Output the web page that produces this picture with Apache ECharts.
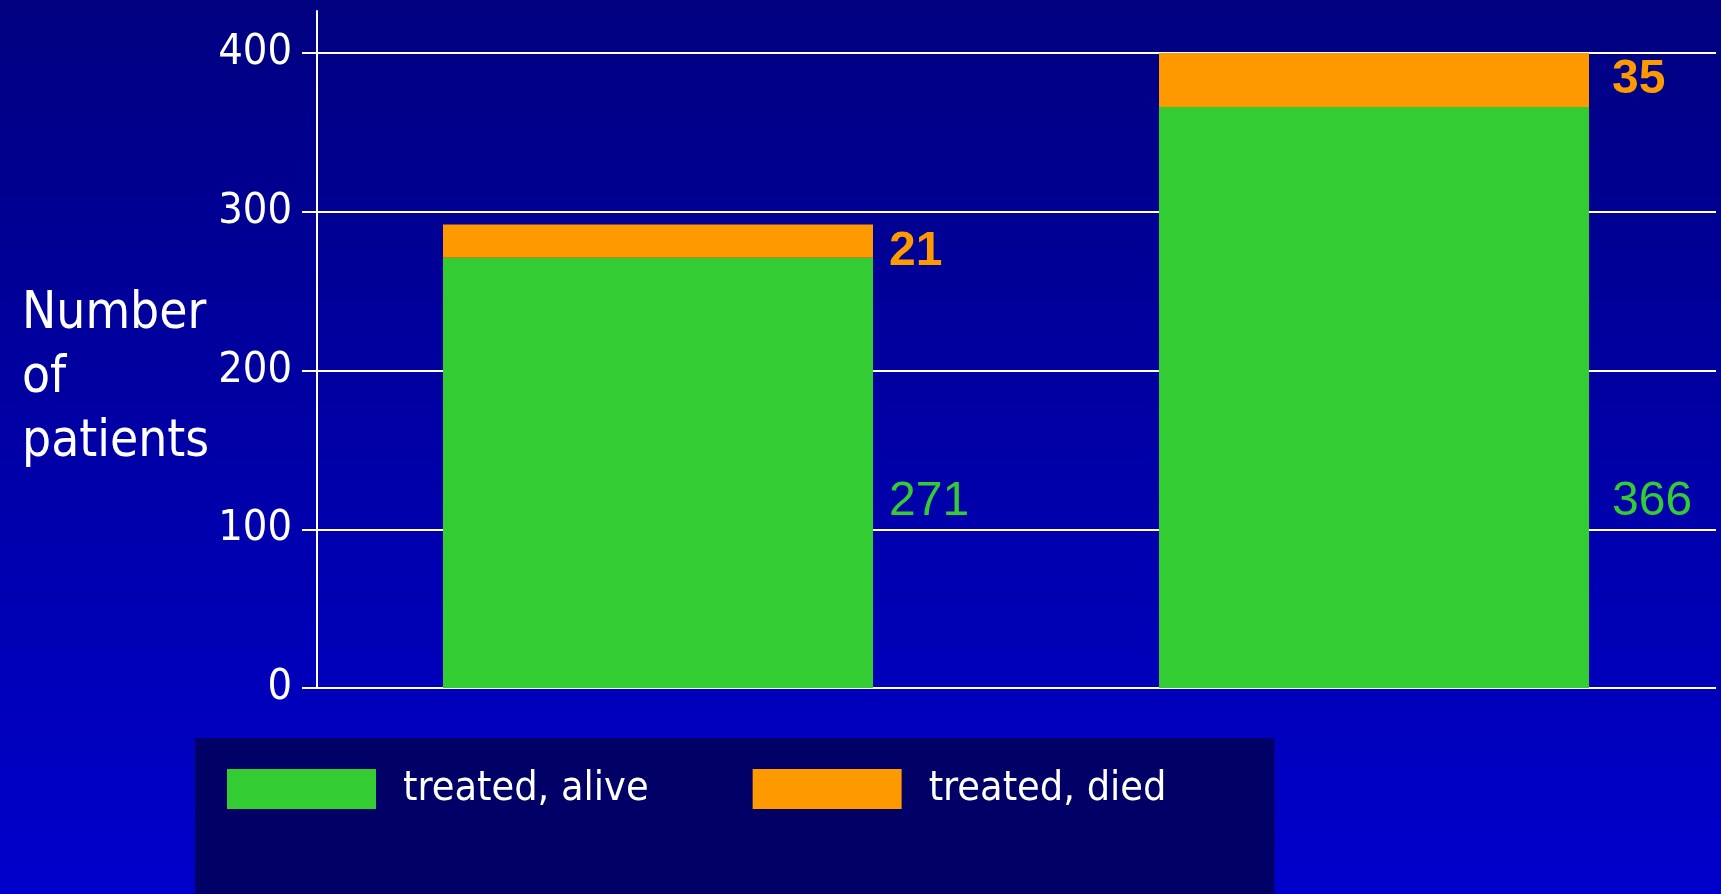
<!DOCTYPE html>
<html>
<head>
<meta charset="utf-8">
<script src="https://cdn.jsdelivr.net/npm/echarts@6/dist/echarts.min.js"></script>
<style>
  html, body { margin: 0; padding: 0; overflow: hidden; background: #0000a8; }
  #chart { width: 1721px; height: 894px; }
</style>
</head>
<body>
<div id="chart"></div>
<script>
// Patient counts per group, stacked: survivors at the bottom, deaths on top
const groups = ['Group 1', 'Group 2'];
const aliveCounts = [271, 366];
const diedCounts = [21, 35];
const seriesNames = ['treated, alive', 'treated, died'];
const yTicks = [0, 100, 200, 300, 400];
const axisTitle = 'Number\nof\npatients';

// Horizontal nudge of the value labels beside each bar (px)
const labelShiftX = [16, 23];

const GREEN = '#33CC33';
const ORANGE = '#FF9900';
const WHITE = '#FFFFFF';
const CLEAR = 'rgba(0,0,0,0)';
const SANS = '"DejaVu Sans Condensed", "DejaVu Sans", sans-serif';
const ARIAL = '"Liberation Sans", Arial, sans-serif';

const yMin = yTicks[0];
const yMax = yTicks[yTicks.length - 1];
const yStep = yTicks[1] - yTicks[0];

const chart = echarts.init(document.getElementById('chart'), null, { renderer: 'canvas' });

const aliveData = aliveCounts.map((v, i) => ({
  value: v,
  label: { offset: [labelShiftX[i], -186] }
}));
const diedData = diedCounts.map((v, i) => ({
  value: v,
  label: { offset: [labelShiftX[i], 27] }
}));

chart.setOption({
  backgroundColor: {
    type: 'linear', x: 0, y: 0, x2: 0, y2: 1,
    colorStops: [
      { offset: 0, color: '#000080' },
      { offset: 1, color: '#0000CC' }
    ]
  },
  animation: false,
  // value-axis title, left aligned in three lines
  title: {
    text: axisTitle,
    left: 22,
    top: 283,
    padding: 0,
    textStyle: {
      color: WHITE, fontFamily: SANS, fontSize: 51, fontWeight: 'normal', lineHeight: 64
    }
  },
  grid: [
    // value axis, ticks and gridlines
    { left: 317, right: 5, top: 53, bottom: 206, containLabel: false, outerBoundsMode: 'none' },
    // bars (band slightly wider than the visible plot)
    { left: 300, width: 1432, top: 53, bottom: 206, containLabel: false, outerBoundsMode: 'none' },
    // vertical axis line reaching above the top gridline
    { left: 317, width: 10, top: 11, bottom: 206, containLabel: false, outerBoundsMode: 'none' }
  ],
  xAxis: [
    { gridIndex: 0, type: 'category', data: groups, show: false },
    { gridIndex: 1, type: 'category', data: groups, show: false },
    { gridIndex: 2, type: 'category', data: groups, show: false }
  ],
  yAxis: [
    {
      gridIndex: 0, type: 'value', min: yMin, max: yMax, interval: yStep,
      axisLine: { show: false },
      axisTick: { show: true, inside: false, length: 15, lineStyle: { color: WHITE, width: 2 } },
      axisLabel: {
        show: true, margin: 25, color: WHITE, fontFamily: SANS, fontSize: 43,
        backgroundColor: CLEAR, padding: [4, 0, 0, 0]
      },
      splitLine: { show: true, lineStyle: { color: WHITE, width: 2 } }
    },
    {
      gridIndex: 1, type: 'value', min: yMin, max: yMax, interval: yStep, show: false
    },
    {
      gridIndex: 2, type: 'value', min: 0, max: 1,
      axisLine: { show: true, lineStyle: { color: WHITE, width: 2 } },
      axisTick: { show: false },
      axisLabel: { show: false },
      splitLine: { show: false }
    }
  ],
  legend: {
    data: seriesNames,
    left: 195,
    top: 738,
    orient: 'horizontal',
    icon: 'rect',
    itemWidth: 149,
    itemHeight: 40,
    itemGap: 104,
    selectedMode: false,
    backgroundColor: '#000066',
    padding: [26, 108, 100, 32],
    textStyle: {
      color: WHITE, fontFamily: SANS, fontSize: 41,
      backgroundColor: CLEAR,
      padding: [9, 0, 0, 22]
    }
  },
  series: [
    {
      name: seriesNames[0],
      type: 'bar',
      stack: 'total',
      xAxisIndex: 1,
      yAxisIndex: 1,
      barWidth: 430,
      itemStyle: { color: GREEN },
      label: {
        show: true,
        position: ['100%', '100%'],
        align: 'left',
        verticalAlign: 'middle',
        color: GREEN,
        fontFamily: ARIAL,
        fontSize: 48,
        formatter: '{c}'
      },
      data: aliveData
    },
    {
      name: seriesNames[1],
      type: 'bar',
      stack: 'total',
      xAxisIndex: 1,
      yAxisIndex: 1,
      barWidth: 430,
      itemStyle: { color: ORANGE },
      label: {
        show: true,
        position: ['100%', 0],
        align: 'left',
        verticalAlign: 'middle',
        color: ORANGE,
        fontFamily: ARIAL,
        fontWeight: 'bold',
        fontSize: 48,
        formatter: '{c}'
      },
      data: diedData
    }
  ]
});
</script>
</body>
</html>
